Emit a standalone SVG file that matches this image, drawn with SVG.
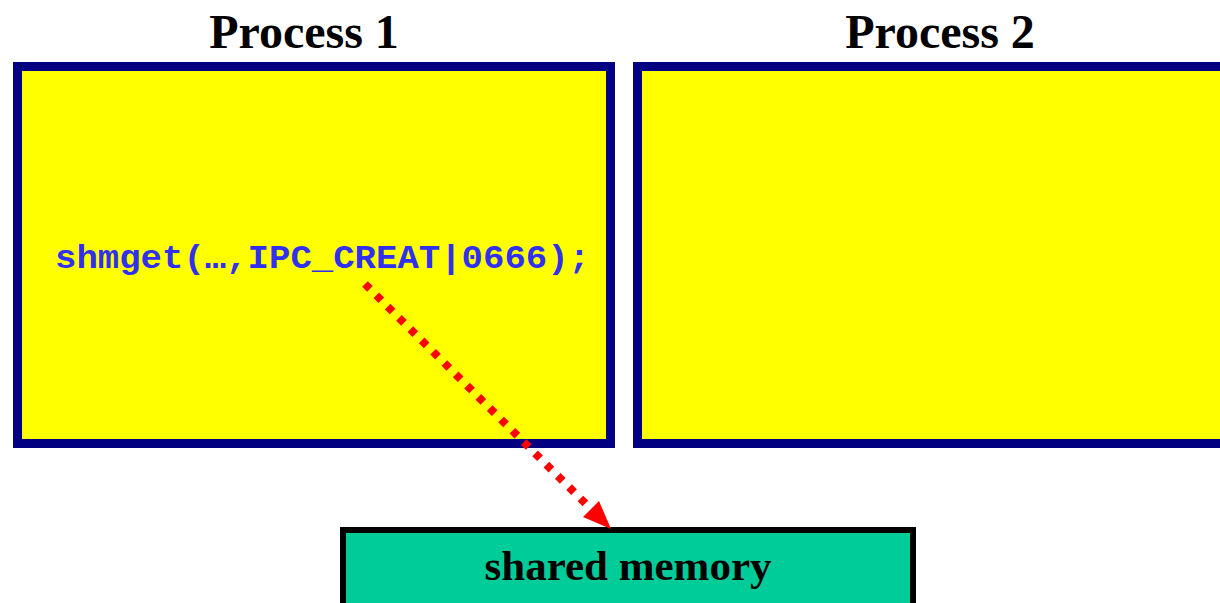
<svg xmlns="http://www.w3.org/2000/svg" width="1220" height="603" viewBox="0 0 1220 603">
<style>
.proc{fill:#ffff00;stroke:#000080;stroke-width:9}
.title{font-family:"Liberation Serif",serif;font-weight:bold;font-size:48px;fill:#000;text-anchor:middle}
.code{font-family:"Liberation Mono",monospace;font-weight:bold;font-size:33px;fill:#3030f0}
.mem{fill:#00cc99;stroke:#000;stroke-width:6}
.memt{font-family:"Liberation Serif",serif;font-weight:bold;font-size:43px;fill:#000;text-anchor:middle}
.conn{stroke:#ff0000;stroke-width:8;stroke-dasharray:7 9;fill:none}
</style>
<rect x="0" y="0" width="1220" height="603" fill="#ffffff"/>
<g id="process1">
<text class="title" x="304" y="48">Process 1</text>
<rect class="proc" x="17.5" y="66.5" width="593" height="377"/>
<text class="code" x="55" y="268" textLength="535" lengthAdjust="spacingAndGlyphs">shmget(…,IPC_CREAT|0666);</text>
</g>
<g id="process2">
<text class="title" x="940" y="48">Process 2</text>
<rect class="proc" x="637.5" y="66.5" width="600" height="377"/>
</g>
<g id="shared-memory">
<rect class="mem" x="343" y="530" width="570" height="80"/>
<text class="memt" x="628" y="580">shared memory</text>
</g>
<g id="connectors">
<line class="conn" x1="365" y1="284" x2="592" y2="510"/>
<path d="M583,517 L611,529 L599,501 Z" fill="#ff0000"/>
</g>
</svg>
